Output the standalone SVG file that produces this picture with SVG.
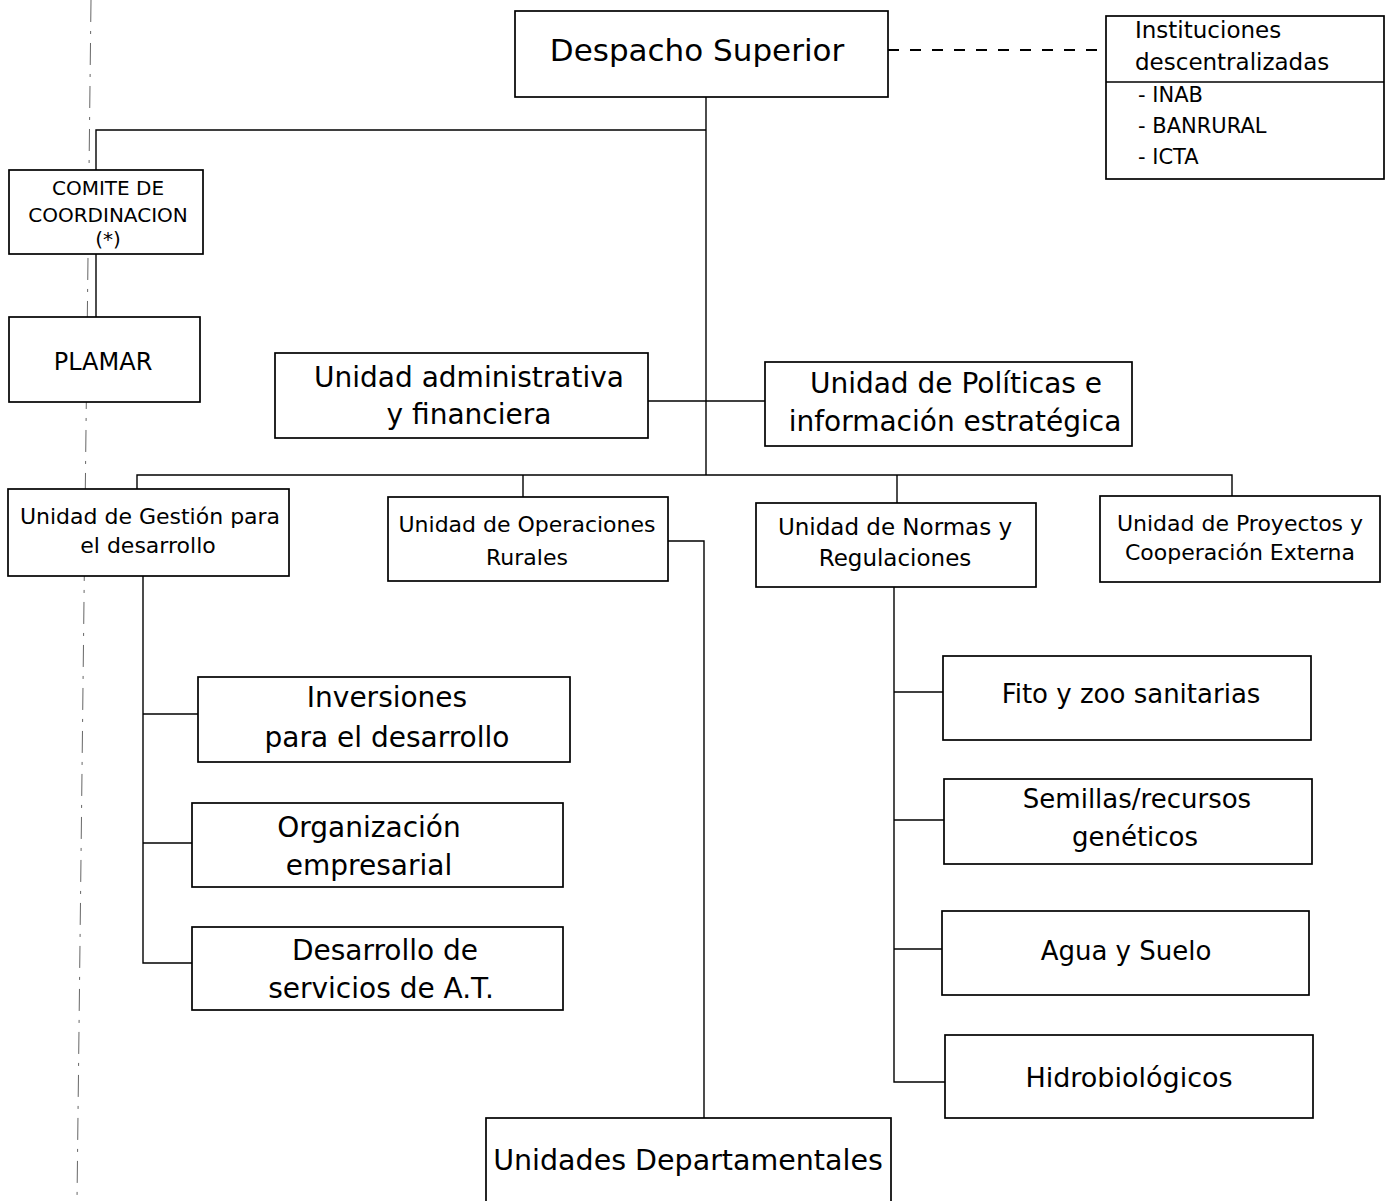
<svg xmlns="http://www.w3.org/2000/svg" width="1389" height="1201" viewBox="0 0 1389 1201">
<style>
.box{fill:#fff;stroke:#000;stroke-width:1.7}
.ln{fill:none;stroke:#000;stroke-width:1.4}
.dash{fill:none;stroke:#000;stroke-width:1.8;stroke-dasharray:11 11}
.guide{fill:none;stroke:#666;stroke-width:1;stroke-dasharray:22 9 3 9}
text{font-family:"DejaVu Sans","Liberation Sans",sans-serif;fill:#000;text-anchor:middle}
.l{text-anchor:start}
.t31{font-size:31px}
.t28{font-size:28px}
.t26{font-size:26px}
.t23{font-size:23px}
.t22{font-size:22px}
.t21{font-size:21px}
.t20{font-size:20px}
</style>
<rect width="1389" height="1201" fill="#fff"/>
<line class="guide" x1="91" y1="0" x2="77" y2="1201"/>
<g id="connectors">
<polyline class="ln" points="706,97 706,475"/>
<polyline class="ln" points="706,130 96,130 96,170"/>
<polyline class="ln" points="96,254 96,317"/>
<line class="dash" x1="888" y1="50" x2="1106" y2="50"/>
<line class="ln" x1="648" y1="401" x2="765" y2="401"/>
<polyline class="ln" points="137,489 137,475 1232,475 1232,496"/>
<line class="ln" x1="523" y1="475" x2="523" y2="497"/>
<line class="ln" x1="897" y1="475" x2="897" y2="503"/>
<polyline class="ln" points="668,541 704,541 704,1118"/>
<polyline class="ln" points="143,576 143,963 192,963"/>
<line class="ln" x1="143" y1="714" x2="198" y2="714"/>
<line class="ln" x1="143" y1="843" x2="192" y2="843"/>
<polyline class="ln" points="894,587 894,1082 945,1082"/>
<line class="ln" x1="894" y1="692" x2="943" y2="692"/>
<line class="ln" x1="894" y1="820" x2="944" y2="820"/>
<line class="ln" x1="894" y1="949" x2="942" y2="949"/>
</g>
<g id="despacho">
<rect class="box" x="515" y="11" width="373" height="86"/>
<text class="t31" x="697" y="61">Despacho Superior</text>
</g>
<g id="instituciones">
<rect class="box" x="1106" y="16" width="278" height="163"/>
<line class="ln" x1="1106" y1="82" x2="1384" y2="82"/>
<text class="t23 l" x="1135" y="38">Instituciones</text>
<text class="t23 l" x="1135" y="70">descentralizadas</text>
<text class="t21 l" x="1138" y="102">- INAB</text>
<text class="t21 l" x="1138" y="133">- BANRURAL</text>
<text class="t21 l" x="1138" y="164">- ICTA</text>
</g>
<g id="comite">
<rect class="box" x="9" y="170" width="194" height="84"/>
<text class="t20" x="108" y="195">COMITE DE</text>
<text class="t20" x="108" y="222">COORDINACION</text>
<text class="t20" x="108" y="246">(*)</text>
</g>
<g id="plamar">
<rect class="box" x="9" y="317" width="191" height="85"/>
<text style="font-size:24px" x="103" y="370">PLAMAR</text>
</g>
<g id="admin">
<rect class="box" x="275" y="353" width="373" height="85"/>
<text class="t28" x="469" y="387">Unidad administrativa</text>
<text class="t28" x="469" y="424">y financiera</text>
</g>
<g id="politicas">
<rect class="box" x="765" y="362" width="367" height="84"/>
<text class="t28" x="956" y="393">Unidad de Políticas e</text>
<text class="t28" x="955" y="431">información estratégica</text>
</g>
<g id="gestion">
<rect class="box" x="8" y="489" width="281" height="87"/>
<text class="t22" x="150" y="524">Unidad de Gestión para</text>
<text class="t22" x="148" y="553">el desarrollo</text>
</g>
<g id="operaciones">
<rect class="box" x="388" y="497" width="280" height="84"/>
<text class="t22" x="527" y="532">Unidad de Operaciones</text>
<text class="t22" x="527" y="565">Rurales</text>
</g>
<g id="normas">
<rect class="box" x="756" y="503" width="280" height="84"/>
<text class="t23" x="895" y="535">Unidad de Normas y</text>
<text class="t23" x="895" y="566">Regulaciones</text>
</g>
<g id="proyectos">
<rect class="box" x="1100" y="496" width="280" height="86"/>
<text class="t22" x="1240" y="531">Unidad de Proyectos y</text>
<text class="t22" x="1240" y="560">Cooperación Externa</text>
</g>
<g id="inversiones">
<rect class="box" x="198" y="677" width="372" height="85"/>
<text class="t28" x="387" y="707">Inversiones</text>
<text class="t28" x="387" y="747">para el desarrollo</text>
</g>
<g id="organizacion">
<rect class="box" x="192" y="803" width="371" height="84"/>
<text class="t28" x="369" y="837">Organización</text>
<text class="t28" x="369" y="875">empresarial</text>
</g>
<g id="desarrollo">
<rect class="box" x="192" y="927" width="371" height="83"/>
<text class="t28" x="385" y="960">Desarrollo de</text>
<text class="t28" x="381" y="998">servicios de A.T.</text>
</g>
<g id="fito">
<rect class="box" x="943" y="656" width="368" height="84"/>
<text class="t26" x="1131" y="703">Fito y zoo sanitarias</text>
</g>
<g id="semillas">
<rect class="box" x="944" y="779" width="368" height="85"/>
<text class="t26" x="1137" y="808">Semillas/recursos</text>
<text class="t26" x="1135" y="846">genéticos</text>
</g>
<g id="agua">
<rect class="box" x="942" y="911" width="367" height="84"/>
<text class="t26" x="1126" y="960">Agua y Suelo</text>
</g>
<g id="hidro">
<rect class="box" x="945" y="1035" width="368" height="83"/>
<text style="font-size:27px" x="1129" y="1087">Hidrobiológicos</text>
</g>
<g id="departamentales">
<rect class="box" x="486" y="1118" width="405" height="90"/>
<text style="font-size:28.5px" x="688" y="1170">Unidades Departamentales</text>
</g>
</svg>
